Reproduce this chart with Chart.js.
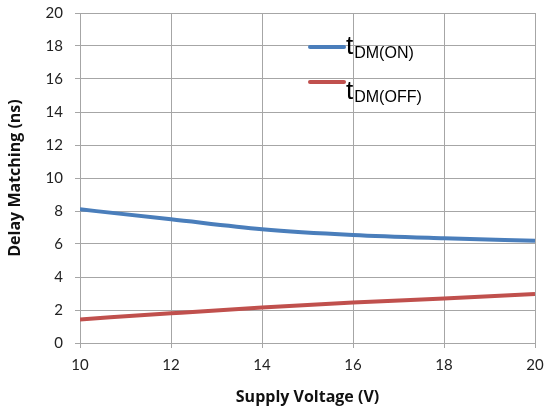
<!DOCTYPE html>
<html>
<head>
<meta charset="utf-8">
<script src="https://cdn.jsdelivr.net/npm/chart.js@4/dist/chart.umd.min.js"></script>
<style>
  html, body { margin: 0; padding: 0; background: #fff; }
  #wrap { width: 546px; height: 407px; }
</style>
</head>
<body>
<div id="wrap"><canvas id="c" width="546" height="407"></canvas></div>
<script>
// Supply voltage (V)
const voltages = [10, 12, 14, 16, 18, 20];
// Delay matching, turn-on (ns)
const tdmOn = [8.1, 7.5, 6.9, 6.55, 6.35, 6.2];
// Delay matching, turn-off (ns)
const tdmOff = [1.43, 1.8, 2.15, 2.45, 2.7, 2.97];
// Axis ranges and tick steps
const xTicks = [10, 12, 14, 16, 18, 20];
const yRange = [0, 20];

const blue = '#4a7ebb';
const red = '#c0504d';
const gridColor = '#a6a6a6';
const tickFont = 'Lato, "Open Sans", sans-serif';
const titleFont = '"Open Sans", Lato, sans-serif';

function pts(ys) { return voltages.map((v, i) => ({ x: v, y: ys[i] })); }

// Legend with subscripted labels drawn inside the plot
const subLegend = {
  id: 'subLegend',
  afterDatasetsDraw(chart) {
    const ctx = chart.ctx;
    const items = [
      { color: blue, main: 't', sub: 'DM(ON)', lineY: 47, mainY: 54, subY: 58 },
      { color: red, main: 't', sub: 'DM(OFF)', lineY: 82, mainY: 99, subY: 102 }
    ];
    ctx.save();
    items.forEach(it => {
      ctx.strokeStyle = it.color;
      ctx.lineWidth = 4;
      ctx.lineCap = 'round';
      ctx.beginPath();
      ctx.moveTo(310, it.lineY);
      ctx.lineTo(344, it.lineY);
      ctx.stroke();
      ctx.fillStyle = '#000';
      ctx.textBaseline = 'alphabetic';
      ctx.textAlign = 'left';
      ctx.font = '26px "Liberation Sans", Arial, sans-serif';
      ctx.fillText(it.main, 346, it.mainY);
      const w = ctx.measureText(it.main).width;
      ctx.font = '16px "Liberation Sans", Arial, sans-serif';
      ctx.fillText(it.sub, 347 + w, it.subY);
    });
    ctx.restore();
  }
};

new Chart(document.getElementById('c'), {
  type: 'line',
  data: {
    datasets: [
      { label: 'tDM(ON)', data: pts(tdmOn), borderColor: blue, borderWidth: 4, pointRadius: 0, tension: 0.4, cubicInterpolationMode: 'monotone', fill: false },
      { label: 'tDM(OFF)', data: pts(tdmOff), borderColor: red, borderWidth: 4, pointRadius: 0, tension: 0.4, cubicInterpolationMode: 'monotone', fill: false }
    ]
  },
  options: {
    responsive: false,
    animation: false,
    layout: { padding: { top: 13, right: 11, left: 0, bottom: 0 } },
    plugins: { legend: { display: false }, tooltip: { enabled: false } },
    scales: {
      x: {
        type: 'linear',
        min: xTicks[0], max: xTicks[xTicks.length - 1],
        afterBuildTicks(s) { s.ticks = xTicks.map(v => ({ value: v })); },
        afterFit(s) { s.height = 64; s.paddingLeft = 0; s.paddingRight = 0; },
        grid: { color: gridColor, lineWidth: 1, tickLength: 5, drawTicks: true },
        border: { color: gridColor, width: 1 },
        ticks: { color: '#222', font: { family: tickFont, size: 15 }, padding: 8, maxRotation: 0 },
        title: { display: true, text: 'Supply Voltage (V)', color: '#111', font: { family: titleFont, size: 16, weight: 'bold' }, padding: { top: 0, bottom: 0 } }
      },
      y: {
        min: yRange[0], max: yRange[1],
        ticks: { stepSize: 2, color: '#222', font: { family: tickFont, size: 15 }, padding: 12 },
        afterFit(s) { s.width = 80; s.paddingTop = 0; s.paddingBottom = 0; },
        grid: { color: gridColor, lineWidth: 1, tickLength: 5 },
        border: { color: gridColor, width: 1 },
        title: { display: true, text: 'Delay Matching (ns)', color: '#111', font: { family: titleFont, size: 16, weight: 'bold' }, padding: { top: 6, bottom: 4 } }
      }
    }
  },
  plugins: [subLegend]
});
</script>
</body>
</html>
